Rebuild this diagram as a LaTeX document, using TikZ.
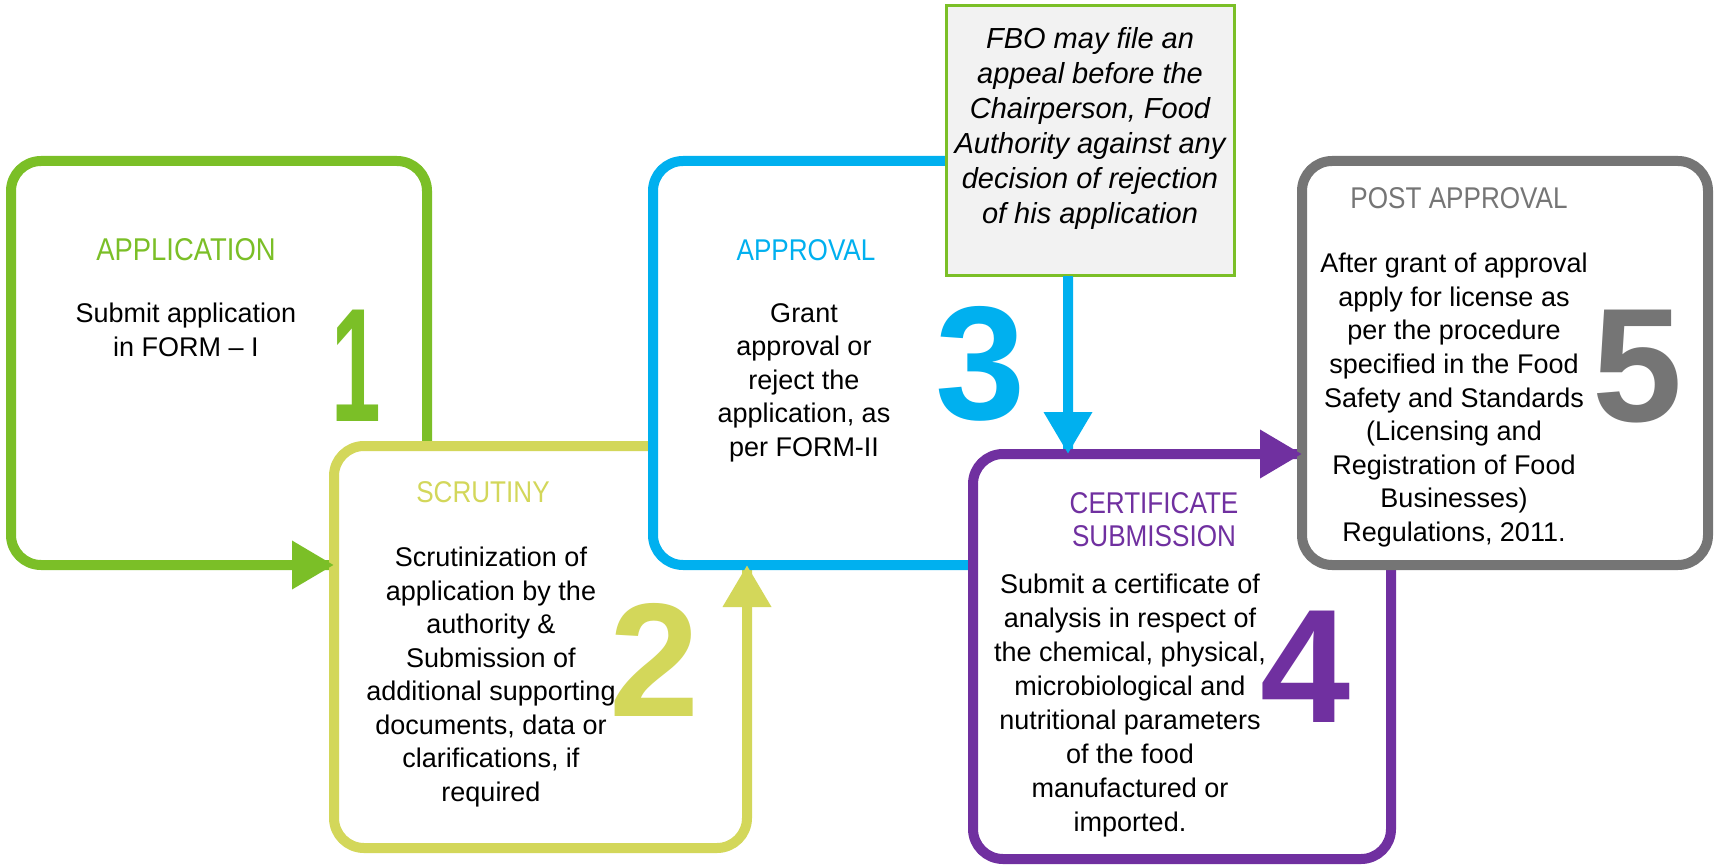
\documentclass[tikz,border=0pt]{standalone}
\usepackage{fontspec}
\setmainfont{Liberation Sans}
\newfontfamily\headfont[FakeStretch=0.87]{Liberation Sans}
\usetikzlibrary{arrows.meta}
\definecolor{cgreen}{HTML}{7BBF27}
\definecolor{cyell}{HTML}{D3D75A}
\definecolor{cblue}{HTML}{00B0EF}
\definecolor{cpurp}{HTML}{7030A0}
\definecolor{cgray}{HTML}{757575}
\definecolor{cnote}{HTML}{F2F2F2}
\begin{document}
\begin{tikzpicture}[x=1pt,y=-1pt,
  box/.style={draw, line width=10pt, rounded corners=30pt, fill=white, outer sep=0pt, inner sep=0pt},
  head/.style={font=\headfont\fontsize{30}{33}\selectfont, align=center, inner sep=0pt},
  body/.style={font=\fontsize{27}{33.5}\selectfont, align=center, inner sep=0pt, anchor=north, text=black},
  digit/.style={font=\bfseries\fontsize{162}{162}\selectfont, inner sep=0pt, anchor=base},
  flow/.style={line width=10pt, -{Triangle[length=42pt,width=46pt]}}
]
\useasboundingbox (0,0) rectangle (1715,866);
% boxes
\node[box, draw=cgreen, minimum width=416pt, minimum height=404pt] (b1) at (219,363) {};
\node[box, draw=cyell, minimum width=413pt, minimum height=402pt] (b2) at (540.5,647) {};
\node[box, draw=cblue, minimum width=415pt, minimum height=404pt] (b3) at (860.5,363) {};
\node[draw=cgreen, line width=3pt, fill=cnote, minimum width=288pt, minimum height=270pt, inner sep=0pt, outer sep=0pt] (note) at (1090,141) {};
\node[box, draw=cpurp, minimum width=418pt, minimum height=405pt] (b4) at (1182,656.5) {};
\node[box, draw=cgray, minimum width=406pt, minimum height=404pt] (b5) at (1505,363) {};
% digits
\node[digit, text=cgreen, xscale=0.55] (d1) at (356,421) {1};
\node[digit, text=cyell] (d2) at (655,716) {2};
\node[digit, text=cblue] (d3) at (981,419) {3};
\node[digit, text=cpurp] (d4) at (1306,722) {4};
\node[digit, text=cgray] (d5) at (1638,421) {5};
% headers
\node[head, text=cgreen, font=\headfont\fontsize{31.5}{33}\selectfont] (h1) at (186,250) {APPLICATION};
\node[head, text=cyell] (h2) at (483,492) {SCRUTINY};
\node[head, text=cblue] (h3) at (806,250) {APPROVAL};
\node[head, text=cpurp, anchor=north] (h4) at (1154,492) {CERTIFICATE\\SUBMISSION};
\node[head, text=cgray] (h5) at (1459,198) {POST APPROVAL};
% bodies
\node[body] (t1) at (186,303) {Submit application\\in FORM – I};
\node[body] (t2) at (491,547) {Scrutinization of\\application by the\\authority \&\\Submission of\\additional supporting\\documents, data or\\clarifications, if\\required};
\node[body] (t3) at (804,303) {Grant\\approval or\\reject the\\application, as\\per FORM-II};
\node[body, font=\itshape\fontsize{29}{35}\selectfont] (tn) at (1090,27) {FBO may file an\\appeal before the\\Chairperson, Food\\Authority against any\\decision of rejection\\of his application};
\node[body, font=\fontsize{27}{34}\selectfont] (t4) at (1130,574) {Submit a certificate of\\analysis in respect of\\the chemical, physical,\\microbiological and\\nutritional parameters\\of the food\\manufactured or\\imported.};
\node[body, font=\fontsize{27}{33.6}\selectfont] (t5) at (1454,253) {After grant of approval\\apply for license as\\per the procedure\\specified in the Food\\Safety and Standards\\(Licensing and\\Registration of Food\\Businesses)\\Regulations, 2011.};
% connectors
\draw[flow, cgreen] ([xshift=-70pt]b2.west |- b1.south) -- (b2.west |- b1.south);
\draw[flow, cyell] ([yshift=-70pt]b2.east |- b3.south) -- (b2.east |- b3.south);
\draw[flow, cblue] (b3.east |- note.south) -- (b3.east |- b4.north);
\draw[flow, cpurp] ([xshift=-80pt]b5.west |- b4.north) -- (b5.west |- b4.north);
\end{tikzpicture}
\end{document}
